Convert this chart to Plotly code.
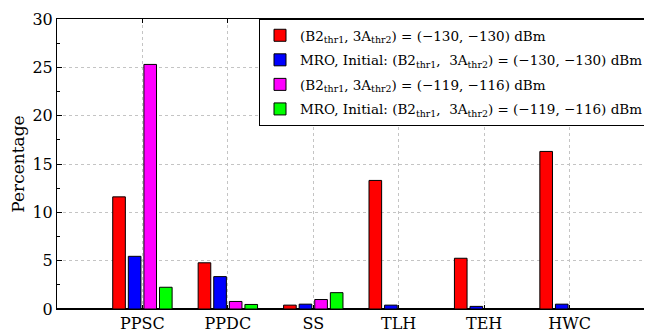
import plotly.graph_objects as go

categories = ["PPSC", "PPDC", "SS", "TLH", "TEH", "HWC"]
red_vals = [11.6, 4.78, 0.40, 13.3, 5.25, 16.3]
blue_vals = [5.45, 3.35, 0.50, 0.40, 0.27, 0.50]
magenta_vals = [25.3, 0.78, 0.98, 0.0, 0.0, 0.0]
green_vals = [2.25, 0.47, 1.69, 0.0, 0.0, 0.0]

names = [
    "(B2<sub>thr1</sub>, 3A<sub>thr2</sub>) = (\u2212130, \u2212130) dBm",
    "MRO, Initial: (B2<sub>thr1</sub>,  3A<sub>thr2</sub>) = (\u2212130, \u2212130) dBm",
    "(B2<sub>thr1</sub>, 3A<sub>thr2</sub>) = (\u2212119, \u2212116) dBm",
    "MRO, Initial: (B2<sub>thr1</sub>,  3A<sub>thr2</sub>) = (\u2212119, \u2212116) dBm",
]
colors = ["#ff0000", "#0000ff", "#ff00ff", "#00ff00"]
series = [red_vals, blue_vals, magenta_vals, green_vals]

font = "DejaVu Serif"

fig = go.Figure()
for i, (n, c, v) in enumerate(zip(names, colors, series)):
    fig.add_trace(go.Bar(x=categories, y=v, name=n, legendgroup=f"g{i}",
                         marker=dict(color=c, line=dict(color="black", width=1))))

# page body has an 8px margin; figure sized to fill the 652x335 window
fig.update_layout(
    width=644, height=327,
    margin=dict(l=49, r=2, t=6, b=17),
    barmode="group", bargap=0.27, bargroupgap=0.19,
    plot_bgcolor="white", paper_bgcolor="white",
    font=dict(family=font, size=16, color="black"),
    showlegend=True,
    legend=dict(x=1.0, y=1.0, xanchor="right", yanchor="top",
                bgcolor="white", bordercolor="black", borderwidth=1,
                font=dict(family=font, size=13.5, color="black"),
                tracegroupgap=4, itemwidth=30),
)
fig.update_xaxes(
    type="category", range=[-1, 5.93],
    showline=True, linecolor="black", linewidth=1, mirror="ticks",
    ticks="inside", ticklen=4, tickcolor="black",
    showgrid=True, gridcolor="#c4c4c4", griddash="dot", gridwidth=1,
    tickfont=dict(family=font, size=16),
)
fig.update_yaxes(
    range=[0, 30], dtick=5, ticklabeloverflow="allow",
    showline=True, linecolor="black", linewidth=1, mirror="ticks",
    ticks="inside", ticklen=5, tickcolor="black",
    minor=dict(dtick=2.5, ticks="inside", ticklen=3, tickcolor="black", showgrid=False),
    showgrid=True, gridcolor="#c4c4c4", griddash="dot", gridwidth=1,
    zeroline=True, zerolinecolor="black", zerolinewidth=2,
    title=dict(text="Percentage", font=dict(family=font, size=17), standoff=6),
    tickfont=dict(family=font, size=16),
)

fig.write_html("out.html")
